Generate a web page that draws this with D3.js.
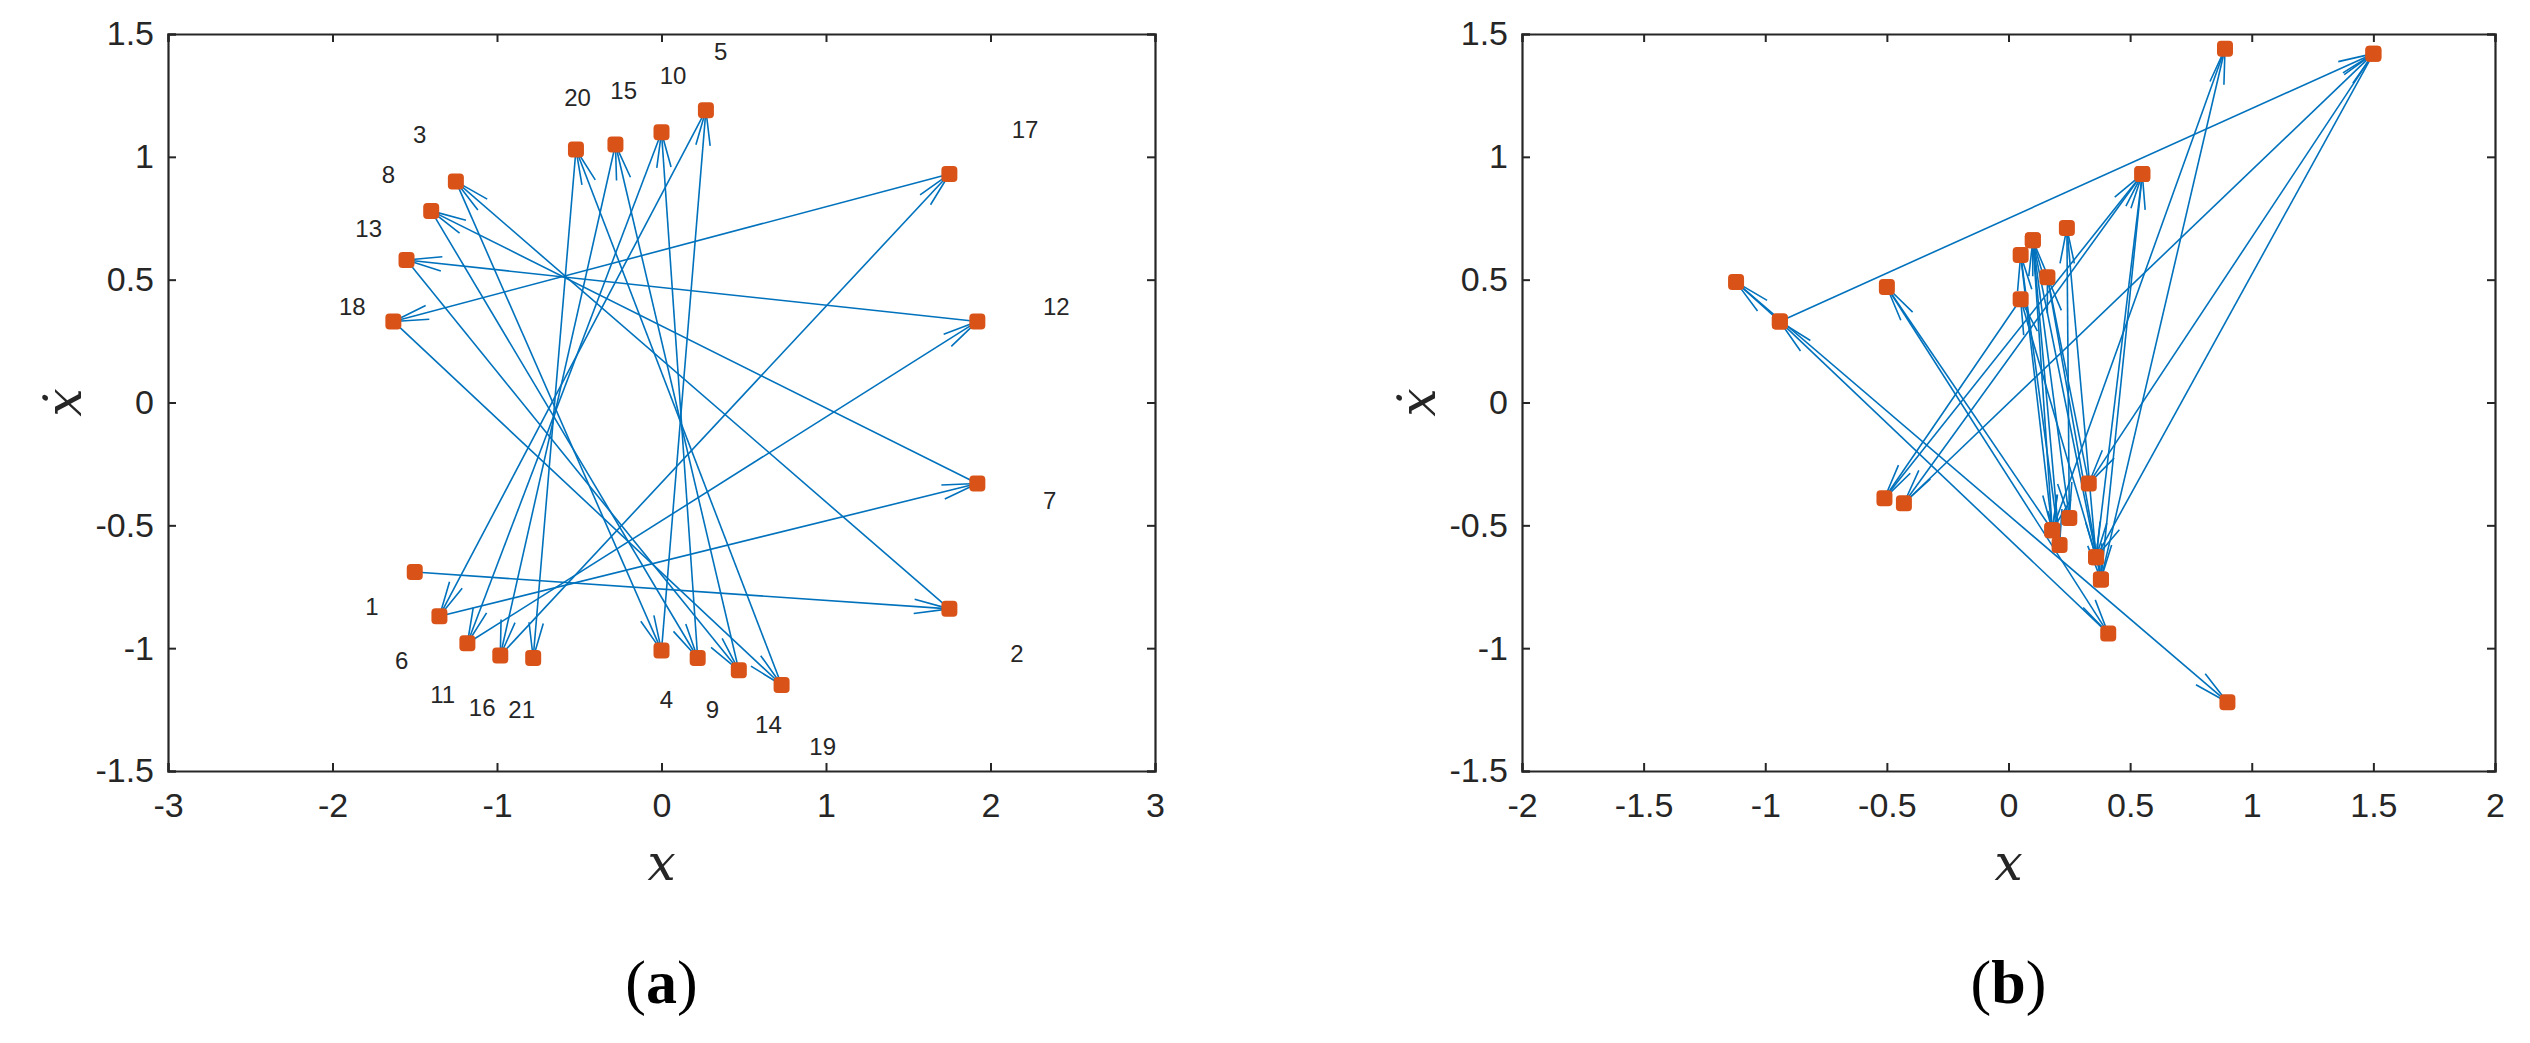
<!DOCTYPE html>
<html><head><meta charset="utf-8">
<script src="https://cdn.jsdelivr.net/npm/d3@7"></script>
<style>body{margin:0;background:#fff}</style>
</head><body>
<svg id="fig" width="2530" height="1043"></svg>
<script>
// panel (a): 21 states, visited in order 1..21
const aX = [-1.50, 1.75, -1.25, 0.00, 0.27, -1.35, 1.92, -1.40, 0.22, 0.00, -1.18, 1.92, -1.55, 0.47, -0.28, -0.98, 1.75, -1.63, 0.73, -0.52, -0.78];
const aY = [-0.69, -0.84, 0.90, -1.01, 1.19, -0.87, -0.33, 0.78, -1.04, 1.10, -0.98, 0.33, 0.58, -1.09, 1.05, -1.03, 0.93, 0.33, -1.15, 1.03, -1.04];
const labX = [-1.76, 2.16, -1.47, 0.03, 0.36, -1.58, 2.36, -1.66, 0.31, 0.07, -1.33, 2.40, -1.78, 0.65, -0.23, -1.09, 2.21, -1.88, 0.98, -0.51, -0.85];
const labY = [-0.83, -1.02, 1.09, -1.21, 1.43, -1.05, -0.40, 0.93, -1.25, 1.33, -1.19, 0.39, 0.71, -1.31, 1.27, -1.24, 1.11, 0.39, -1.40, 1.24, -1.25];

// panel (b): trajectory
const bX = [-0.94, 1.50, 0.36, 0.05, -0.51, 0.55, 0.38, 0.89, 0.18, 0.05, 0.21, 0.10, 0.25, 0.24, 0.36, 0.55, -0.43, 1.50, 0.33, 0.16, 0.38, 0.10, 0.18, -0.50, 0.41, -0.94, -1.12, 0.90];
const bY = [0.33, 1.42, -0.63, 0.42, -0.39, 0.93, -0.72, 1.44, -0.52, 0.60, -0.58, 0.66, -0.47, 0.71, -0.63, 0.93, -0.41, 1.42, -0.33, 0.51, -0.72, 0.66, -0.52, 0.47, -0.94, 0.33, 0.49, -1.22];

const yTicks = [-1.5, -1, -0.5, 0, 0.5, 1, 1.5];
const aTicks = [-3, -2, -1, 0, 1, 2, 3];
const bTicks = [-2, -1.5, -1, -0.5, 0, 0.5, 1, 1.5, 2];

const svg = d3.select("#fig");
const blue = "#0072BD", orange = "#D95319";
const yTop = 34, yBot = 771;

function panel(x0, x1, dom, ticks, xs, ys, tag, labels) {
  let x = d3.scaleLinear().domain(dom).range([x0, x1]);
  let y = d3.scaleLinear().domain([-1.5, 1.5]).range([yBot, yTop]);
  let g = svg.append("g");
  let fmt = d => String(d);

  // axes with inward ticks on all four sides
  let mk = (a) => a.tickSize(-8).tickPadding(14).tickFormat(fmt);
  let gb = g.append("g").attr("transform", "translate(0," + yBot + ")").call(mk(d3.axisBottom(x).tickValues(ticks)));
  let gt = g.append("g").attr("transform", "translate(0," + yTop + ")").call(d3.axisTop(x).tickValues(ticks).tickSize(-8).tickFormat(""));
  let gl = g.append("g").attr("transform", "translate(" + x0 + ",0)").call(mk(d3.axisLeft(y).tickValues(yTicks)));
  let gr = g.append("g").attr("transform", "translate(" + x1 + ",0)").call(d3.axisRight(y).tickValues(yTicks).tickSize(-8).tickFormat(""));
  [gb, gt, gl, gr].forEach(a => {
    a.selectAll("path").attr("stroke", "#262626").attr("stroke-width", 2.2);
    a.selectAll("line").attr("stroke", "#262626").attr("stroke-width", 2);
    a.selectAll("text").attr("font-family", "Arial, Liberation Sans, sans-serif").attr("font-size", 34).attr("fill", "#262626");
  });
  gb.selectAll("text").attr("dy", "0.95em");

  // arrows
  let arr = g.append("g").attr("stroke", blue).attr("stroke-width", 1.6).attr("fill", "none");
  for (let i = 0; i < xs.length - 1; i++) {
    let sx = x(xs[i]), sy = y(ys[i]), ex = x(xs[i + 1]), ey = y(ys[i + 1]);
    arr.append("line").attr("x1", sx).attr("y1", sy).attr("x2", ex).attr("y2", ey);
    let ang = Math.atan2(sy - ey, sx - ex), L = 36, w = 0.2;
    let p = [[ex + L * Math.cos(ang + w), ey + L * Math.sin(ang + w)], [ex, ey], [ex + L * Math.cos(ang - w), ey + L * Math.sin(ang - w)]];
    arr.append("path").attr("d", d3.line()(p));
  }

  // markers
  g.append("g").selectAll("rect").data(xs.map((d, i) => [d, ys[i]])).join("rect")
    .attr("x", d => x(d[0]) - 8).attr("y", d => y(d[1]) - 8)
    .attr("width", 16).attr("height", 16).attr("rx", 4).attr("fill", orange);

  if (labels) {
    g.append("g").selectAll("text").data(labels[0]).join("text")
      .attr("x", (d, i) => x(d)).attr("y", (d, i) => y(labels[1][i]))
      .attr("text-anchor", "middle").attr("dominant-baseline", "central")
      .attr("font-family", "Arial, Liberation Sans, sans-serif").attr("font-size", 24).attr("fill", "#262626")
      .text((d, i) => i + 1);
  }

  let cx = (x0 + x1) / 2;
  g.append("text").attr("x", cx).attr("y", 880).attr("text-anchor", "middle")
    .attr("font-family", "DejaVu Serif, serif").attr("font-style", "italic").attr("font-size", 50).attr("fill", "#262626").text("x");
  g.append("text").attr("transform", "translate(" + (x0 - 105) + "," + ((yTop + yBot) / 2) + ") rotate(-90)")
    .attr("text-anchor", "middle").attr("dy", "0.35em")
    .attr("font-family", "DejaVu Serif, serif").attr("font-style", "italic").attr("font-size", 50).attr("fill", "#262626").text("ẋ");
  let t = g.append("text").attr("x", cx).attr("y", 1003).attr("text-anchor", "middle")
    .attr("font-family", "Liberation Serif, Times New Roman, serif").attr("font-size", 62).attr("fill", "#000");
  t.append("tspan").text("(");
  t.append("tspan").attr("font-weight", "bold").text(tag);
  t.append("tspan").text(")");
}

panel(168, 1155, [-3, 3], aTicks, aX, aY, "a", [labX, labY]);
panel(1522, 2495, [-2, 2], bTicks, bX, bY, "b", null);
</script>
</body></html>
